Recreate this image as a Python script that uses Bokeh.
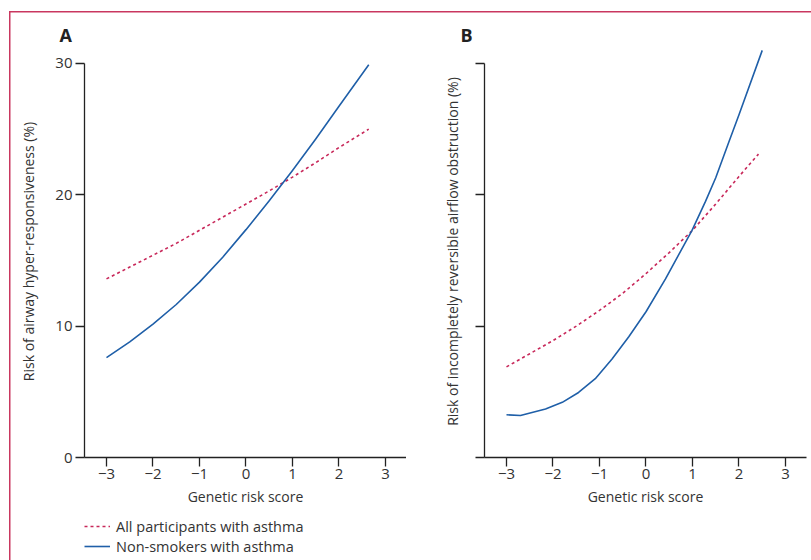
from bokeh.plotting import figure
from bokeh.layouts import row, column
from bokeh.models import Range1d, FixedTicker, Title, Legend, LegendItem
from bokeh.embed import file_html
from bokeh.resources import INLINE

# ---- data ----
x_ticks = [-3, -2, -1, 0, 1, 2, 3]
x_tick_labels = ["\u22123", "\u22122", "\u22121", "0", "1", "2", "3"]
y_ticks = [0, 10, 20, 30]
y_tick_labels_a = ["0", "10", "20", "30"]

a_all_x = [-3, -2.5, -2, -1.5, -1, -0.5, 0, 0.5, 1, 1.5, 2, 2.64]
a_all_y = [13.6, 14.5, 15.4, 16.3, 17.3, 18.3, 19.3, 20.3, 21.35, 22.45, 23.6, 25.0]
a_ns_x = [-3, -2.5, -2, -1.5, -1, -0.5, 0, 0.5, 1, 1.5, 2, 2.64]
a_ns_y = [7.6, 8.8, 10.15, 11.65, 13.35, 15.25, 17.35, 19.55, 21.85, 24.25, 26.75, 29.9]

b_all_x = [-3, -2.5, -2, -1.5, -1, -0.5, 0, 0.5, 1, 1.5, 2, 2.42]
b_all_y = [6.9, 7.9, 8.9, 10.0, 11.2, 12.5, 14.0, 15.6, 17.3, 19.3, 21.4, 23.1]
b_ns_x = [-3.0, -2.7, -2.16, -1.8, -1.45, -1.09, -0.73, -0.37, 0.0, 0.42, 0.99, 1.28, 1.5, 1.78, 2.0, 2.5]
b_ns_y = [3.25, 3.2, 3.7, 4.2, 4.95, 6.0, 7.5, 9.2, 11.1, 13.6, 17.3, 19.5, 21.3, 24.0, 26.1, 31.0]

legend_labels = ["All participants with asthma", "Non-smokers with asthma"]
panel_titles = ["A", "B"]
y_labels = ["Risk of airway hyper-responsiveness (%)",
            "Risk of incompletely reversible airflow obstruction (%)"]
x_label = "Genetic risk score"

# ---- styles ----
FONT = "Open Sans"
TXT = "#333333"
RED = "#c8285a"
BLUE = "#1f5fa8"
AX = "#222222"
Y_TOP = 31.37
RED_DASH = "3 3"


def style_axes(p):
    for ax in (p.xaxis[0], p.yaxis[0]):
        ax.axis_line_color = AX
        ax.axis_line_width = 1.3
        ax.major_tick_line_color = AX
        ax.major_tick_line_width = 1.3
        ax.major_tick_out = 9
        ax.major_tick_in = 0
        ax.minor_tick_line_color = None
        ax.major_label_text_font = FONT
        ax.major_label_text_font_size = "15px"
        ax.major_label_text_color = TXT
        ax.axis_label_text_font = FONT
        ax.axis_label_text_font_size = "14px"
        ax.axis_label_text_font_style = "normal"
        ax.axis_label_text_color = TXT
    p.xaxis.ticker = FixedTicker(ticks=x_ticks)
    p.xaxis.major_label_overrides = dict(zip(x_ticks, x_tick_labels))
    p.xaxis.major_label_standoff = 2
    p.xaxis.axis_label = x_label
    p.xaxis.axis_label_standoff = 5
    p.yaxis.ticker = FixedTicker(ticks=y_ticks)
    p.yaxis.bounds = (0, 30)
    p.xgrid.visible = False
    p.ygrid.visible = False
    p.border_fill_color = None
    p.background_fill_color = None
    p.outline_line_color = None


def add_title(p, text, offset, standoff):
    t = Title(text=text, align="left", offset=offset, standoff=standoff,
              text_font=FONT, text_font_size="18px", text_font_style="bold",
              text_color="#222222")
    p.add_layout(t, "above")


def make_panel(width, left, right):
    return figure(width=width, height=510, output_backend="svg", toolbar_location=None,
                  x_range=Range1d(-3.473, 3.452), y_range=Range1d(0, Y_TOP),
                  min_border_left=left, min_border_right=right, min_border_top=45,
                  min_border_bottom=53)


# ---- panel A ----
pA = make_panel(406, 84, 0)
style_axes(pA)
pA.yaxis.major_label_overrides = dict(zip(y_ticks, y_tick_labels_a))
pA.yaxis.major_label_standoff = 3
pA.yaxis.axis_label = y_labels[0]
pA.yaxis.axis_label_standoff = 14
add_title(pA, panel_titles[0], -25, -3)

pA.line(a_all_x, a_all_y, line_color=RED, line_width=1.6, line_dash=RED_DASH)
pA.line(a_ns_x, a_ns_y, line_color=BLUE, line_width=1.6, line_join="round")

# ---- panel B ----
pB = make_panel(405, 78, 5)
style_axes(pB)
pB.yaxis.major_label_overrides = {t: "" for t in y_ticks}
pB.yaxis.major_label_standoff = 0
pB.yaxis.axis_label = y_labels[1]
pB.yaxis.axis_label_standoff = 14
add_title(pB, panel_titles[1], -24, -3)

pB.line(b_all_x, b_all_y, line_color=RED, line_width=1.6, line_dash=RED_DASH)
pB.line(b_ns_x, b_ns_y, line_color=BLUE, line_width=1.6, line_join="round")

# ---- legend strip (its ranges keep the series themselves out of view) ----
pL = figure(width=811, height=50, output_backend="svg", toolbar_location=None,
            x_axis_type=None, y_axis_type=None, x_range=Range1d(0, 1), y_range=Range1d(-2, -1),
            min_border=0)
pL.grid.visible = False
pL.border_fill_color = None
pL.background_fill_color = None
pL.outline_line_color = None
lr = pL.line(a_all_x, a_all_y, line_color=RED, line_width=1.6, line_dash=RED_DASH)
lb = pL.line(a_ns_x, a_ns_y, line_color=BLUE, line_width=1.6)
legend = Legend(items=[LegendItem(label=legend_labels[0], renderers=[lr]),
                       LegendItem(label=legend_labels[1], renderers=[lb])],
                location=(84, 4), orientation="vertical",
                glyph_width=26, glyph_height=20, label_height=20, spacing=0,
                padding=0, margin=0, label_standoff=6,
                label_text_font=FONT, label_text_font_size="14.5px",
                label_text_color=TXT, border_line_color=None,
                background_fill_alpha=0)
pL.add_layout(legend, "center")

BORDER = "#c9375f"
layout = column(row(pA, pB), pL, styles={
    "background-image": f"linear-gradient({BORDER},{BORDER}), linear-gradient({BORDER},{BORDER})",
    "background-size": "calc(100% - 9px) 1.5px, 1.5px calc(100% - 11px)",
    "background-position": "9px 11px, 9px 11px",
    "background-repeat": "no-repeat",
    "background-color": "white",
})

open("out.html", "w").write(file_html(layout, INLINE))
